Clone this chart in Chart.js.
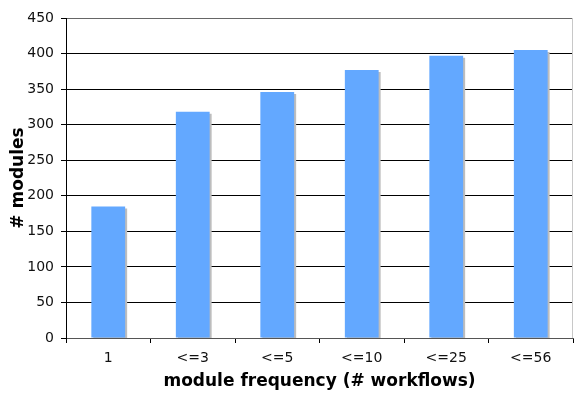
<!DOCTYPE html>
<html>
<head>
<meta charset="utf-8">
<script src="https://cdn.jsdelivr.net/npm/chart.js@4/dist/chart.umd.min.js"></script>
<style>
  html, body { margin: 0; padding: 0; background: #fff; }
  #wrap { width: 574px; height: 395px; }
</style>
</head>
<body>
<div id="wrap"><canvas id="c" width="574" height="395"></canvas></div>
<script>
// Module counts by workflow frequency bucket
const categories = ['1', '<=3', '<=5', '<=10', '<=25', '<=56'];
const moduleCounts = [185, 318, 346, 377, 397, 405];
const yTicks = [0, 50, 100, 150, 200, 250, 300, 350, 400, 450];

const FONT = "'DejaVu Sans', Verdana, sans-serif";

// Drop shadow behind each bar, plus the plot-area frame
const barShadow = {
  id: 'barShadow',
  beforeDatasetDraw(chart) {
    const ctx = chart.ctx;
    ctx.shadowColor = '#bdbdbd';
    ctx.shadowOffsetX = 2;
    ctx.shadowOffsetY = 2;
    ctx.shadowBlur = 0;
  },
  afterDatasetDraw(chart) {
    const ctx = chart.ctx;
    ctx.shadowColor = 'rgba(0,0,0,0)';
    ctx.shadowOffsetX = 0;
    ctx.shadowOffsetY = 0;
  },
  afterDraw(chart) {
    const {ctx, chartArea: a} = chart;
    ctx.save();
    ctx.strokeStyle = '#c8c8c8';
    ctx.lineWidth = 1;
    ctx.beginPath();
    ctx.moveTo(Math.round(a.right) - 0.5, a.top);
    ctx.lineTo(Math.round(a.right) - 0.5, a.bottom);
    ctx.stroke();
    ctx.restore();
  }
};

new Chart(document.getElementById('c'), {
  type: 'bar',
  data: {
    labels: categories,
    datasets: [{
      data: moduleCounts,
      backgroundColor: '#63a8ff',
      borderWidth: 0,
      categoryPercentage: 1.0,
      barPercentage: 0.4,
      clip: 0
    }]
  },
  options: {
    responsive: false,
    animation: false,
    devicePixelRatio: 1,
    layout: { padding: { top: 18, right: 1, left: 0, bottom: 0 } },
    plugins: { legend: { display: false }, tooltip: { enabled: false } },
    scales: {
      x: {
        afterFit(s) { s.height = 57; },
        grid: {
          offset: true,
          drawOnChartArea: false,
          drawTicks: true,
          tickLength: 5,
          tickColor: '#000'
        },
        border: { color: '#555', width: 1 },
        ticks: {
          color: '#111',
          font: { family: FONT, size: 14 },
          padding: 7,
          maxRotation: 0
        },
        title: {
          display: true,
          text: 'module frequency (# workflows)',
          color: '#000',
          font: { family: FONT, size: 17, weight: 'bold' },
          padding: { top: 0, bottom: 3 }
        }
      },
      y: {
        min: 0,
        max: 450,
        afterFit(s) { s.width = 66; },
        afterBuildTicks(s) { s.ticks = yTicks.map(v => ({ value: v })); },
        grid: {
          color: c => (c.tick && c.tick.value === 450 ? '#666' : '#000'),
          lineWidth: 1,
          drawTicks: true,
          tickLength: 5,
          tickColor: '#000'
        },
        border: { color: '#000', width: 1 },
        ticks: {
          color: '#111',
          font: { family: FONT, size: 14 },
          padding: 7
        },
        title: {
          display: true,
          text: '# modules',
          color: '#000',
          font: { family: FONT, size: 17, weight: 'bold' },
          padding: { top: 8, bottom: 0 }
        }
      }
    }
  },
  plugins: [barShadow]
});
</script>
</body>
</html>
